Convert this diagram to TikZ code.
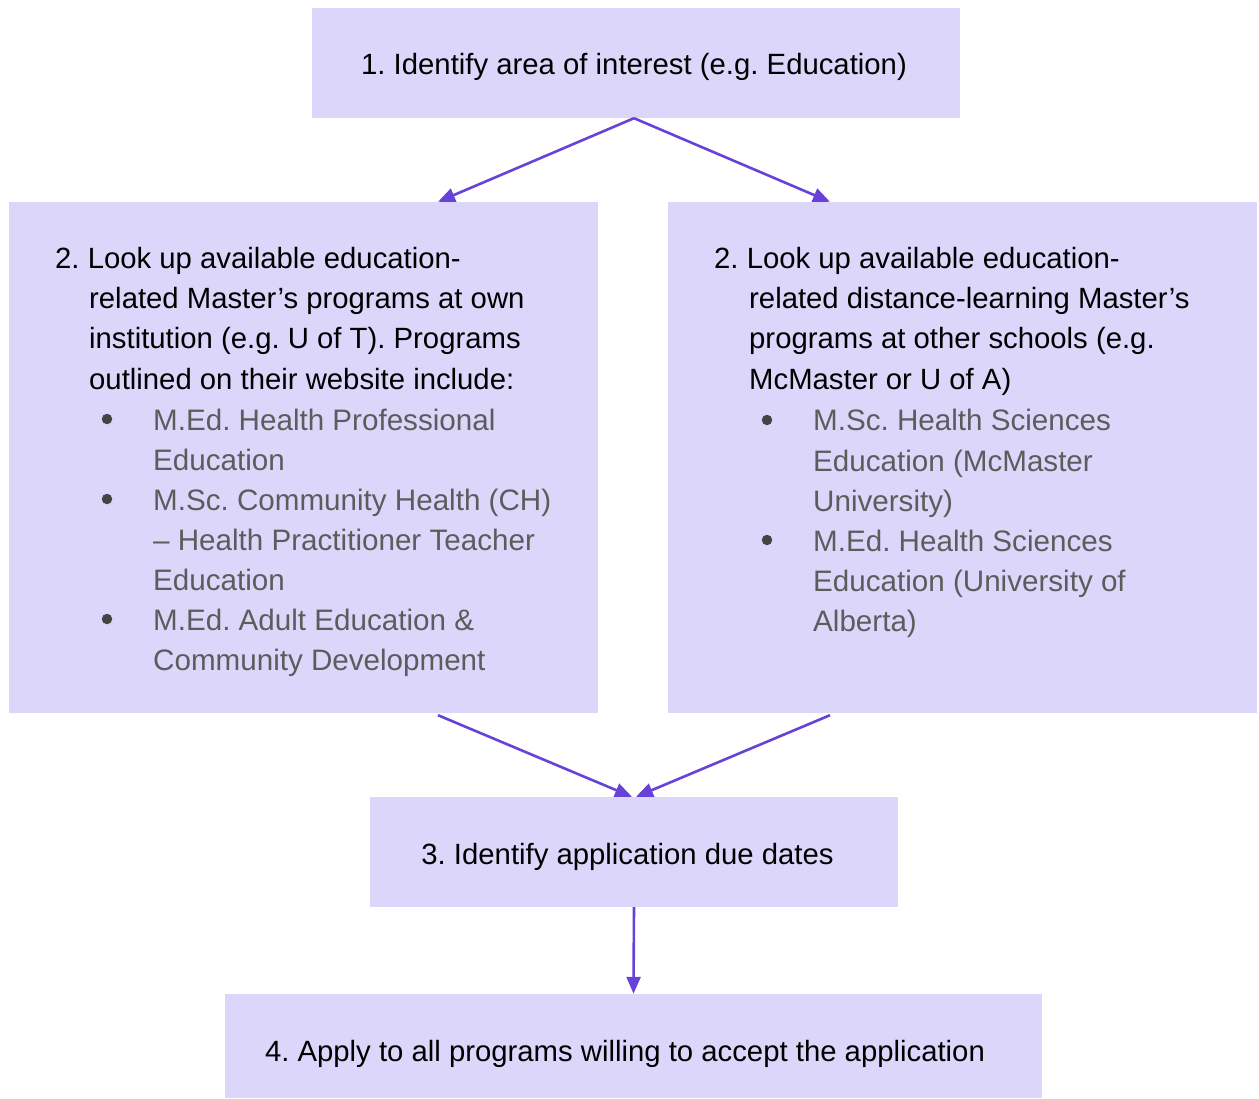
\documentclass[tikz,border=0pt]{standalone}
\usepackage{fontspec}
\setmainfont{Liberation Sans}
\usetikzlibrary{arrows.meta}
\definecolor{boxfill}{HTML}{DDD6FB}
\definecolor{arrcol}{HTML}{6642D6}
\definecolor{graytext}{HTML}{5C5C5C}
\definecolor{bulletcol}{HTML}{444444}
\tikzset{
  box/.style={rectangle, fill=boxfill, draw=none, inner sep=0pt},
  main/.style={anchor=base west, inner sep=0pt, font=\fontsize{29.3}{40}\selectfont, text=black},
  ctr/.style={anchor=base, inner sep=0pt, font=\fontsize{29.3}{40}\selectfont, text=black},
  sub/.style={anchor=base west, inner sep=0pt, font=\fontsize{29.6}{40}\selectfont, text=graytext},
  bul/.style={circle, fill=bulletcol, inner sep=0pt, minimum size=10.5pt},
  arr/.style={draw=arrcol, line width=2.6pt, -{Triangle[length=17pt,width=14pt]}}
}
\frenchspacing
\begin{document}
\begin{tikzpicture}[x=1pt,y=-1pt]
\useasboundingbox (0,0) rectangle (1259,1099);
% boxes
\node[box, minimum width=648pt, minimum height=110pt] (b1) at (636,63) {};
\node[box, minimum width=589pt, minimum height=511pt] (b2l) at (303.5,457.5) {};
\node[box, minimum width=589pt, minimum height=511pt] (b2r) at (962.5,457.5) {};
\node[box, minimum width=528pt, minimum height=110pt] (b3) at (634,852) {};
\node[box, minimum width=817pt, minimum height=104pt] (b4) at (633.5,1046) {};
% box 1 text
\node[ctr] (t1) at (634,75) {\frenchspacing 1. Identify area of interest (e.g. Education)};
% left box text
\node[main] (l1) at (55,269) {\frenchspacing 2. Look up available education-};
\node[main] (l2) at (89,309) {related Master’s programs at own};
\node[main] (l3) at (89,349) {\frenchspacing institution (e.g. U of T). Programs};
\node[main] (l4) at (89,389) {outlined on their website include:};
\node[bul] (lb1) at (107,419) {};
\node[sub] (ls1) at (153,430) {\frenchspacing M.Ed. Health Professional};
\node[sub] (ls2) at (153,470) {Education};
\node[bul] (lb2) at (107,499) {};
\node[sub] (ls3) at (153,510) {\frenchspacing M.Sc. Community Health (CH)};
\node[sub] (ls4) at (153,550) {– Health Practitioner Teacher};
\node[sub] (ls5) at (153,590) {Education};
\node[bul] (lb3) at (107,619) {};
\node[sub] (ls6) at (153,630) {\frenchspacing M.Ed. Adult Education \&};
\node[sub] (ls7) at (153,670) {Community Development};
% right box text
\node[main] (r1) at (714,269) {\frenchspacing 2. Look up available education-};
\node[main] (r2) at (749,309) {related distance-learning Master’s};
\node[main] (r3) at (749,349) {\frenchspacing programs at other schools (e.g.};
\node[main] (r4) at (749,389) {McMaster or U of A)};
\node[bul] (rb1) at (767,420) {};
\node[sub] (rs1) at (813,431) {\frenchspacing M.Sc. Health Sciences};
\node[sub] (rs2) at (813,471) {Education (McMaster};
\node[sub] (rs3) at (813,511) {University)};
\node[bul] (rb2) at (767,540) {};
\node[sub] (rs4) at (813,551) {\frenchspacing M.Ed. Health Sciences};
\node[sub] (rs5) at (813,591) {Education (University of};
\node[sub] (rs6) at (813,631) {Alberta)};
% box 3 and 4 text
\node[ctr] (t3) at (627.5,864) {\frenchspacing 3. Identify application due dates};
\node[ctr] (t4) at (625,1061) {\frenchspacing 4. Apply to all programs willing to accept the application};
% connectors
\draw[arr] ([xshift=-2pt]b1.south) -- ([xshift=134.5pt]b2l.north);
\draw[arr] ([xshift=-2pt]b1.south) -- ([xshift=-132.5pt]b2r.north);
\draw[arr] ([xshift=134.5pt,yshift=-2pt]b2l.south) -- ([xshift=-2pt]b3.north);
\draw[arr] ([xshift=-132.5pt,yshift=-2pt]b2r.south) -- ([xshift=2pt]b3.north);
\draw[arr] (b3.south) -- (b4.north);
\end{tikzpicture}
\end{document}
